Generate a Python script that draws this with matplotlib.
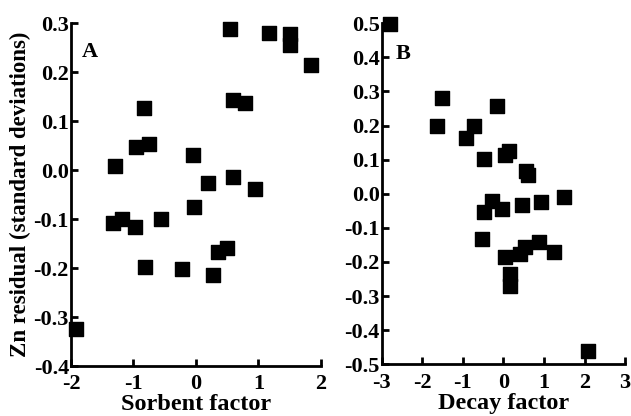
import numpy as np
import matplotlib
matplotlib.use("Agg")
import matplotlib.pyplot as plt

plt.rcParams['font.family'] = ['Liberation Serif', 'DejaVu Serif']
plt.rcParams['font.weight'] = 'bold'
plt.rcParams['axes.unicode_minus'] = False

# panel A: sorbent factor vs Zn residual
sorbent_x = [0.55, 1.17, 1.50, 1.51, 1.85, -0.83, 0.60, 0.78, -0.96, -0.75,
             -1.30, -0.05, 0.20, 0.59, 0.95, -0.03, -1.33, -1.18, -0.97, -0.56,
             0.36, 0.50, -0.82, -0.22, 0.28, -1.92]
sorbent_y = [0.287, 0.279, 0.277, 0.255, 0.214, 0.126, 0.144, 0.136, 0.048, 0.054,
             0.009, 0.031, -0.026, -0.014, -0.039, -0.076, -0.109, -0.099, -0.116, -0.100,
             -0.168, -0.158, -0.197, -0.201, -0.214, -0.325]

# panel B: decay factor vs Zn residual
decay_x = [-2.79, -1.52, -1.63, -0.16, -0.72, -0.92, -0.47, 0.05, 0.15, 0.56,
           0.60, 1.49, 0.93, 0.45, -0.29, -0.04, -0.47, -0.53, 0.88, 0.53,
           0.41, 1.25, 0.04, 0.16, 0.17, 2.09]
decay_y = [0.497, 0.282, 0.200, 0.256, 0.200, 0.164, 0.103, 0.115, 0.125, 0.068,
           0.054, -0.008, -0.025, -0.032, -0.020, -0.044, -0.052, -0.132, -0.142, -0.157,
           -0.176, -0.171, -0.186, -0.235, -0.269, -0.462]

a_yticks = [0.3, 0.2, 0.1, 0.0, -0.1, -0.2, -0.3, -0.4]
b_yticks = [0.5, 0.4, 0.3, 0.2, 0.1, 0.0, -0.1, -0.2, -0.3, -0.4, -0.5]

fig = plt.figure(figsize=(6.31, 4.16), dpi=100)
axA = fig.add_axes([0.1125, 0.120, 0.396, 0.8245])
axB = fig.add_axes([0.605, 0.1243, 0.3856, 0.8197])


def style(ax):
    for s in ['top', 'right']:
        ax.spines[s].set_visible(False)
    for s in ['left', 'bottom']:
        ax.spines[s].set_linewidth(2)
    ax.tick_params(direction='in', length=5, width=2, labelsize=16)
    ax.tick_params(axis='x', pad=6)
    ax.tick_params(axis='y', pad=1.5)
    for lab in ax.get_xticklabels() + ax.get_yticklabels():
        lab.set_fontweight('bold')


axA.scatter(sorbent_x, sorbent_y, marker='s', s=100, color='black', clip_on=False)
axA.set_xlim(-2, 2)
axA.set_ylim(-0.4, 0.3)
axA.set_xticks([-2, -1, 0, 1, 2])
axA.set_yticks(a_yticks)
axA.set_yticklabels(['%.1f' % v for v in a_yticks])
axA.set_xlabel('Sorbent factor', fontsize=17.5, fontweight='bold', labelpad=0)
axA.set_ylabel('Zn residual (standard deviations)', fontsize=16.5, fontweight='bold', labelpad=2)
axA.text(0.045, 0.915, 'A', transform=axA.transAxes, fontsize=16, fontweight='bold',
         va='center')
style(axA)

axB.scatter(decay_x, decay_y, marker='s', s=100, color='black', clip_on=False)
axB.set_xlim(-3, 3)
axB.set_ylim(-0.5, 0.5)
axB.set_xticks([-3, -2, -1, 0, 1, 2, 3])
axB.set_yticks(b_yticks)
axB.set_yticklabels(['%.1f' % v for v in b_yticks])
axB.set_xlabel('Decay factor', fontsize=17.5, fontweight='bold', labelpad=0)
axB.text(0.055, 0.911, 'B', transform=axB.transAxes, fontsize=16, fontweight='bold',
         va='center')
style(axB)

fig.savefig('out.png', dpi=100)
